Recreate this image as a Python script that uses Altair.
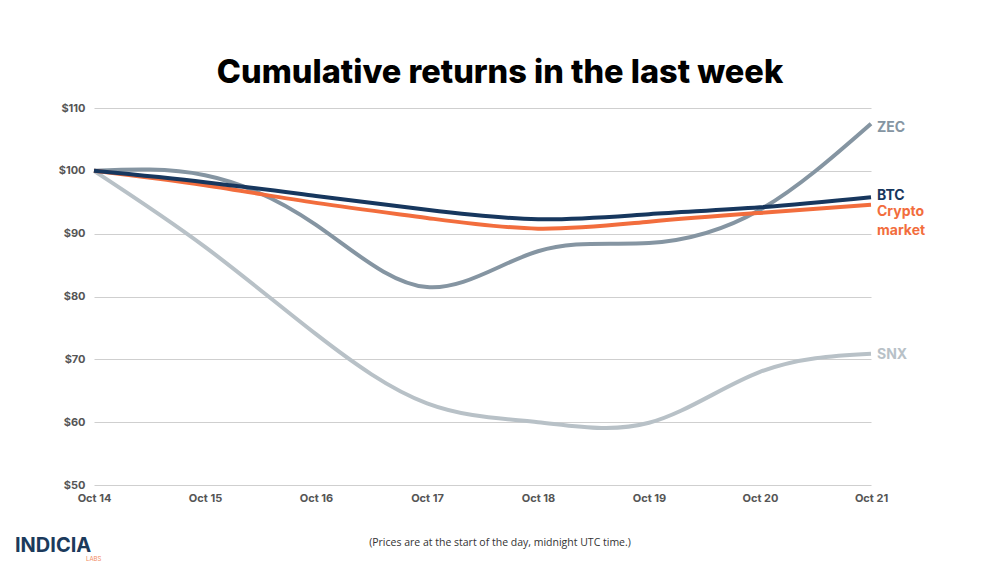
import altair as alt
import pandas as pd

dates = ["Oct 14", "Oct 15", "Oct 16", "Oct 17", "Oct 18", "Oct 19", "Oct 20", "Oct 21"]
zec = [100, 99.3, 91.4, 81.5, 87.2, 88.5, 93.8, 107.5]
btc = [100, 98.2, 96.0, 93.8, 92.3, 93.1, 94.2, 95.8]
crypto = [100, 97.7, 94.9, 92.5, 90.8, 91.9, 93.3, 94.6]
snx = [100, 87.9, 74.0, 63.0, 60.0, 59.9, 68.0, 70.9]

series_names = ["SNX", "ZEC", "Crypto market", "BTC"]
series_vals = [snx, zec, crypto, btc]
colors = ["#b8c1c7", "#8595a2", "#f26d3d", "#17375e"]

rows = []
for name, vals in zip(series_names, series_vals):
    for d, v in zip(dates, vals):
        rows.append({"date": d, "value": v, "series": name})
df = pd.DataFrame(rows)

xscale = alt.Scale(type="point", padding=0)
xaxis = alt.Axis(title=None, labelAngle=0, ticks=False, domain=False,
                 labelFont="Inter", labelFontWeight="bold", labelFontSize=11,
                 labelColor="#555555", labelPadding=7, grid=False)
yscale = alt.Scale(domain=[50, 110], nice=False, zero=False)
yaxis = alt.Axis(title=None, values=[50, 60, 70, 80, 90, 100, 110],
                 labelExpr="'$' + datum.value", ticks=False, domain=False,
                 labelFont="Inter", labelFontWeight="bold", labelFontSize=11,
                 labelColor="#555555", labelPadding=9,
                 gridColor="#cfcfcf", gridWidth=1.2)

lines = alt.Chart(df).mark_line(interpolate="natural", strokeWidth=4).encode(
    x=alt.X("date:O", sort=dates, scale=xscale, axis=xaxis),
    y=alt.Y("value:Q", scale=yscale, axis=yaxis),
    color=alt.Color("series:N", scale=alt.Scale(domain=series_names, range=colors), legend=None),
    order=alt.Order("series:N"),
)

last = df[df["date"] == dates[-1]]
label_dy = {"SNX": 1, "ZEC": 4, "Crypto market": 0, "BTC": -1}
label_layers = []
for name, col in zip(series_names, colors):
    txt = name.replace(" ", "\n") if name == "Crypto market" else name
    sub = last[last["series"] == name].assign(label=txt)
    label_layers.append(
        alt.Chart(sub).mark_text(align="left", baseline="middle" if name != "Crypto market" else "top",
                                 dx=6, dy=label_dy[name], font="Inter", fontWeight="bold",
                                 fontSize=14, color=col, lineBreak="\n", lineHeight=19).encode(
            x=alt.X("date:O", sort=dates, scale=xscale, axis=xaxis),
            y=alt.Y("value:Q", scale=yscale, axis=yaxis), text="label:N")
    )

title_df = pd.DataFrame({"t": ["Cumulative returns in the last week"]})
title = alt.Chart(title_df).mark_text(font="Inter", fontWeight=800, fontSize=32.5,
                                      color="#000000", align="center", baseline="middle").encode(
    x=alt.value(406), y=alt.value(-35), text="t:N")

note_df = pd.DataFrame({"t": ["(Prices are at the start of the day, midnight UTC time.)"]})
note = alt.Chart(note_df).mark_text(font="Open Sans", fontSize=10.5, color="#333333",
                                    align="center", baseline="middle").encode(
    x=alt.value(406), y=alt.value(435), text="t:N")

logo_df = pd.DataFrame({"t": ["INDICIA"]})
logo = alt.Chart(logo_df).mark_text(font="Inter", fontWeight="bold", fontSize=20,
                                    color="#1b3a5c", align="left", baseline="middle").encode(
    x=alt.value(-79), y=alt.value(438), text="t:N")
labs_df = pd.DataFrame({"t": ["LABS"]})
labs = alt.Chart(labs_df).mark_text(font="Inter", fontSize=6, color="#f28a5e",
                                    align="left", baseline="middle").encode(
    x=alt.value(-8), y=alt.value(451), text="t:N")

chart = alt.layer(lines, *label_layers, title, note, logo, labs).properties(
    width=777, height=377,
    background="white",
    autosize=alt.AutoSizeParams(type="none"),
    padding={"left": 86, "top": 100, "right": 120, "bottom": 78},
).configure_view(stroke=None)

chart.save("out.html", embed_options={"renderer": "svg", "actions": False})
